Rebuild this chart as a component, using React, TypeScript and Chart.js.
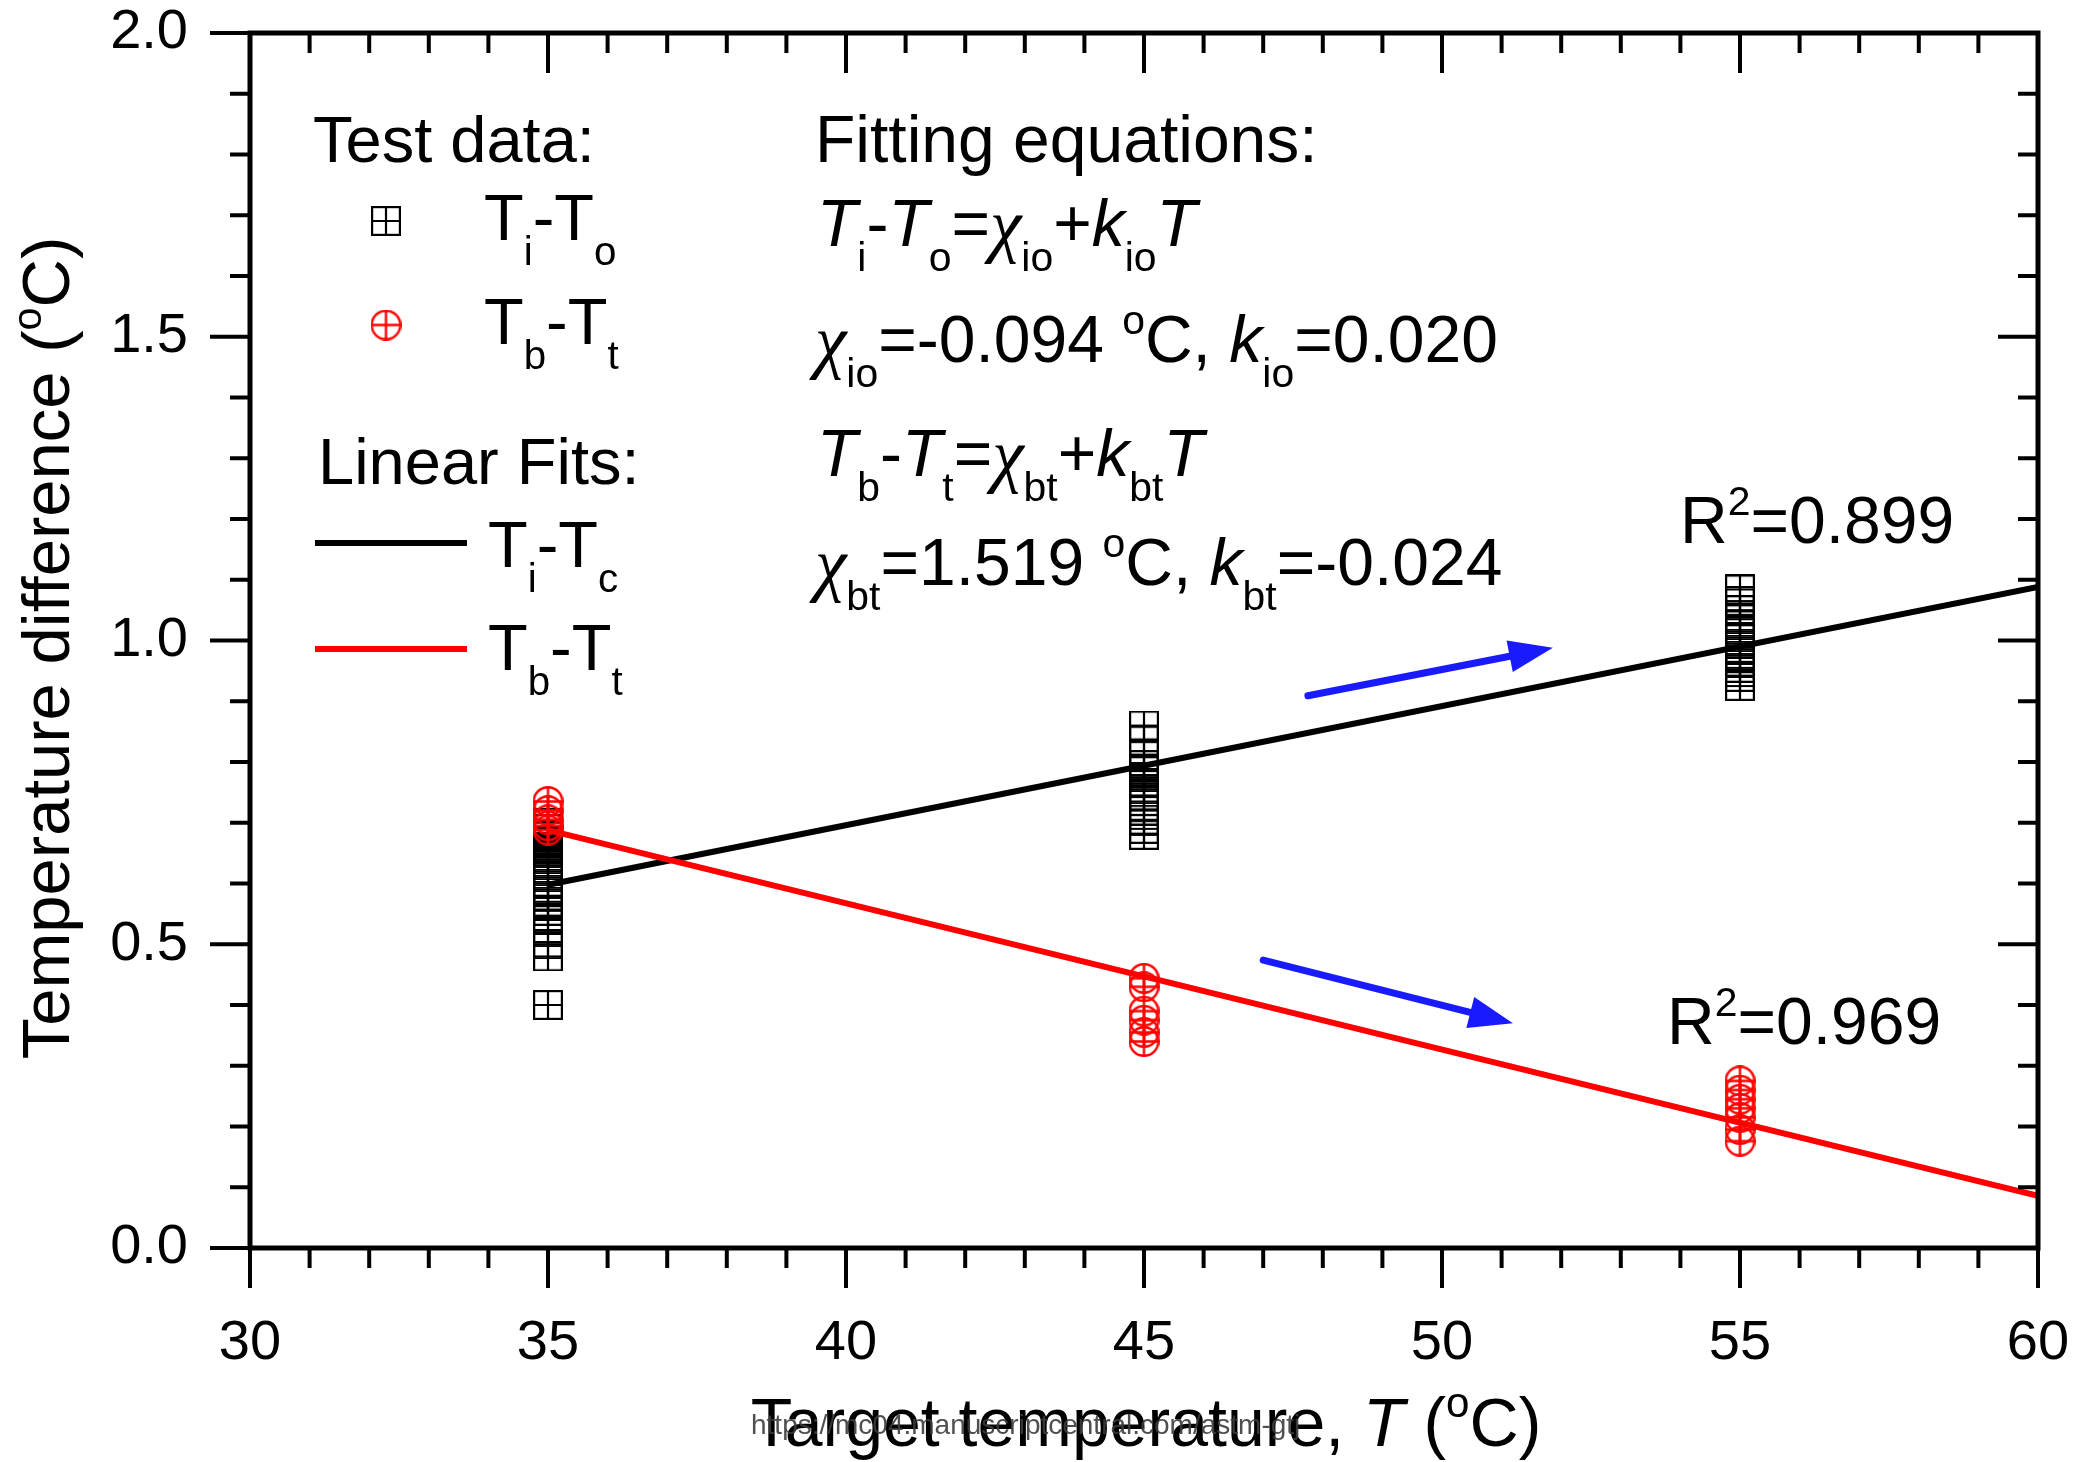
import React, { useEffect, useRef } from "react";
import { Chart, registerables } from "chart.js";

Chart.register(...registerables);

// ---------- data ----------
const xTickValues = [30, 35, 40, 45, 50, 55, 60];
const yTickValues = [0.0, 0.5, 1.0, 1.5, 2.0];

const tiTo35 = [0.40, 0.48, 0.50, 0.52, 0.54, 0.555, 0.57, 0.58, 0.59, 0.60, 0.61, 0.62, 0.63, 0.64, 0.65, 0.66, 0.67, 0.68, 0.69, 0.70];
const tiTo45 = [0.86, 0.835, 0.81, 0.795, 0.785, 0.775, 0.765, 0.755, 0.745, 0.735, 0.72, 0.705, 0.69, 0.68];
const tiTo55 = [1.084, 1.065, 1.05, 1.035, 1.025, 1.015, 1.005, 0.995, 0.985, 0.975, 0.965, 0.955, 0.94, 0.925];

const tbTt35 = [0.735, 0.72, 0.705, 0.695, 0.688];
const tbTt45 = [0.444, 0.43, 0.39, 0.375, 0.355, 0.34];
const tbTt55 = [0.275, 0.26, 0.245, 0.23, 0.215, 0.195, 0.176];

const fitX = [35, 60];
const fitTiTo = [0.598, 1.088];
const fitTbTt = [0.688, 0.086];

const arrowStarts = [[47.75, 0.909], [47.0, 0.474]];
const arrowEnds = [[51.86, 0.988], [51.19, 0.37]];

const FONT = "'Liberation Sans', Arial, Helvetica, sans-serif";
const CHI_FONT = "'Liberation Serif', 'DejaVu Serif', serif";

type Seg = { t: string; it?: boolean; sub?: boolean; sup?: boolean; chi?: boolean };

function pts(x: number, ys: number[]) {
  return ys.map((y) => ({ x, y }));
}

function makeSquare(size: number, color: string, lw: number) {
  const c = document.createElement("canvas");
  c.width = size;
  c.height = size;
  const g = c.getContext("2d")!;
  g.strokeStyle = color;
  g.lineWidth = lw;
  const h = lw / 2;
  g.strokeRect(h, h, size - lw, size - lw);
  g.beginPath();
  g.moveTo(size / 2, h);
  g.lineTo(size / 2, size - h);
  g.moveTo(h, size / 2);
  g.lineTo(size - h, size / 2);
  g.stroke();
  return c;
}

function makeCircle(size: number, color: string, lw: number) {
  const c = document.createElement("canvas");
  c.width = size;
  c.height = size;
  const g = c.getContext("2d")!;
  g.strokeStyle = color;
  g.lineWidth = lw;
  const r = size / 2 - lw / 2;
  g.beginPath();
  g.arc(size / 2, size / 2, r, 0, Math.PI * 2);
  g.moveTo(size / 2, size / 2 - r);
  g.lineTo(size / 2, size / 2 + r);
  g.moveTo(size / 2 - r, size / 2);
  g.lineTo(size / 2 + r, size / 2);
  g.stroke();
  return c;
}

function segFont(s: Seg, size: number) {
  const fs = s.sub || s.sup ? size * 0.62 : s.chi ? size * 1.08 : size;
  return `${s.it || s.chi ? "italic " : ""}${fs}px ${s.chi ? CHI_FONT : FONT}`;
}

function richWidth(ctx: CanvasRenderingContext2D, segs: Seg[], size: number) {
  let w = 0;
  for (const s of segs) {
    ctx.font = segFont(s, size);
    w += ctx.measureText(s.t).width;
  }
  return w;
}

function drawRich(ctx: CanvasRenderingContext2D, x: number, y: number, segs: Seg[], size: number, color = "#000") {
  let cx = x;
  ctx.fillStyle = color;
  ctx.textBaseline = "alphabetic";
  ctx.textAlign = "left";
  for (const s of segs) {
    ctx.font = segFont(s, size);
    const dy = s.sub ? size * 0.38 : s.sup ? -size * 0.42 : s.chi ? size * 0.05 : 0;
    ctx.fillText(s.t, cx, y + dy);
    cx += ctx.measureText(s.t).width;
  }
}

function zeroPad(s: any) {
  s.paddingTop = 0;
  s.paddingBottom = 0;
  s.paddingLeft = 0;
  s.paddingRight = 0;
}

export default function App() {
  const ref = useRef<HTMLCanvasElement | null>(null);

  useEffect(() => {
    const canvas = ref.current!;
    const sq = makeSquare(30, "#000", 2.2);
    const ci = makeCircle(31, "#ff0000", 2.4);

    const decor = {
      id: "decor",
      beforeDraw(chart: any) {
        const ctx = chart.ctx;
        ctx.save();
        ctx.fillStyle = "#fff";
        ctx.fillRect(0, 0, chart.width, chart.height);
        ctx.restore();
      },
      afterDraw(chart: any) {
        const ctx: CanvasRenderingContext2D = chart.ctx;
        const xs = chart.scales.x;
        const ys = chart.scales.y;
        const { left, right, top, bottom } = chart.chartArea;
        ctx.save();
        // ticks
        ctx.strokeStyle = "#000";
        ctx.lineWidth = 4;
        ctx.beginPath();
        for (let v = 30; v <= 60; v += 1) {
          const px = xs.getPixelForValue(v);
          const len = v % 5 === 0 ? 40 : 20;
          ctx.moveTo(px, bottom);
          ctx.lineTo(px, bottom + len);
          ctx.moveTo(px, top);
          ctx.lineTo(px, top + len);
        }
        for (let i = 0; i <= 20; i++) {
          const v = i / 10;
          const py = ys.getPixelForValue(v);
          const len = i % 5 === 0 ? 40 : 20;
          ctx.moveTo(left, py);
          ctx.lineTo(left - len, py);
          ctx.moveTo(right, py);
          ctx.lineTo(right - len, py);
        }
        ctx.stroke();
        // frame
        ctx.lineWidth = 5;
        ctx.strokeRect(left, top, right - left, bottom - top);

        // arrows
        ctx.strokeStyle = "#1a1aff";
        ctx.fillStyle = "#1a1aff";
        ctx.lineWidth = 7;
        ctx.lineCap = "round";
        for (let i = 0; i < arrowStarts.length; i++) {
          const x1 = xs.getPixelForValue(arrowStarts[i][0]);
          const y1 = ys.getPixelForValue(arrowStarts[i][1]);
          const x2 = xs.getPixelForValue(arrowEnds[i][0]);
          const y2 = ys.getPixelForValue(arrowEnds[i][1]);
          const a = Math.atan2(y2 - y1, x2 - x1);
          const hl = 44;
          const hw = 16;
          const bx = x2 - hl * Math.cos(a);
          const by = y2 - hl * Math.sin(a);
          ctx.beginPath();
          ctx.moveTo(x1, y1);
          ctx.lineTo(bx + 4 * Math.cos(a), by + 4 * Math.sin(a));
          ctx.stroke();
          ctx.beginPath();
          ctx.moveTo(x2, y2);
          ctx.lineTo(bx - hw * Math.sin(a), by + hw * Math.cos(a));
          ctx.lineTo(bx + hw * Math.sin(a), by - hw * Math.cos(a));
          ctx.closePath();
          ctx.fill();
        }
        ctx.lineCap = "butt";

        // legend block
        const S = 65;
        drawRich(ctx, 313, 162, [{ t: "Test data:" }], S);
        ctx.drawImage(sq, 386 - 15, 221 - 15);
        drawRich(ctx, 484, 240, [{ t: "T" }, { t: "i", sub: true }, { t: "-T" }, { t: "o", sub: true }], S);
        ctx.drawImage(ci, 386 - 15.5, 325 - 15.5);
        drawRich(ctx, 484, 344, [{ t: "T" }, { t: "b", sub: true }, { t: "-T" }, { t: "t", sub: true }], S);
        drawRich(ctx, 318, 484, [{ t: "Linear Fits:" }], S);
        ctx.lineWidth = 6;
        ctx.strokeStyle = "#000";
        ctx.beginPath();
        ctx.moveTo(315, 543);
        ctx.lineTo(467, 543);
        ctx.stroke();
        drawRich(ctx, 488, 567, [{ t: "T" }, { t: "i", sub: true }, { t: "-T" }, { t: "c", sub: true }], S);
        ctx.strokeStyle = "#ff0000";
        ctx.beginPath();
        ctx.moveTo(315, 649);
        ctx.lineTo(467, 649);
        ctx.stroke();
        drawRich(ctx, 488, 670, [{ t: "T" }, { t: "b", sub: true }, { t: "-T" }, { t: "t", sub: true }], S);

        // equations
        const E = 66;
        drawRich(ctx, 815, 162, [{ t: "Fitting equations:" }], E);
        drawRich(ctx, 817, 246, [
          { t: "T", it: true }, { t: "i", sub: true }, { t: "-" }, { t: "T", it: true }, { t: "o", sub: true },
          { t: "=" }, { t: "χ", chi: true }, { t: "io", sub: true }, { t: "+" }, { t: "k", it: true }, { t: "io", sub: true }, { t: "T", it: true },
        ], E);
        drawRich(ctx, 815, 362, [
          { t: "χ", chi: true }, { t: "io", sub: true }, { t: "=-0.094 " }, { t: "o", sup: true }, { t: "C, " },
          { t: "k", it: true }, { t: "io", sub: true }, { t: "=0.020" },
        ], E);
        drawRich(ctx, 817, 476, [
          { t: "T", it: true }, { t: "b", sub: true }, { t: "-" }, { t: "T", it: true }, { t: "t", sub: true },
          { t: "=" }, { t: "χ", chi: true }, { t: "bt", sub: true }, { t: "+" }, { t: "k", it: true }, { t: "bt", sub: true }, { t: "T", it: true },
        ], E);
        drawRich(ctx, 815, 585, [
          { t: "χ", chi: true }, { t: "bt", sub: true }, { t: "=1.519 " }, { t: "o", sup: true }, { t: "C, " },
          { t: "k", it: true }, { t: "bt", sub: true }, { t: "=-0.024" },
        ], E);
        drawRich(ctx, 1680, 543, [{ t: "R" }, { t: "2", sup: true }, { t: "=0.899" }], E);
        drawRich(ctx, 1667, 1044, [{ t: "R" }, { t: "2", sup: true }, { t: "=0.969" }], E);

        // axis titles
        const xt: Seg[] = [{ t: "Target temperature, " }, { t: "T", it: true }, { t: " (" }, { t: "o", sup: true }, { t: "C)" }];
        const xw = richWidth(ctx, xt, 68);
        const xc = (left + right) / 2 + 2;
        drawRich(ctx, xc - xw / 2, 1446, xt, 68);

        const yt: Seg[] = [{ t: "Temperature difference (" }, { t: "o", sup: true }, { t: "C)" }];
        const yw = richWidth(ctx, yt, 67);
        ctx.save();
        ctx.translate(69, 648);
        ctx.rotate(-Math.PI / 2);
        drawRich(ctx, -yw / 2, 0, yt, 67);
        ctx.restore();

        // watermark
        ctx.font = `28px ${FONT}`;
        ctx.fillStyle = "rgba(60,60,60,0.9)";
        ctx.fillText("https://mc04.manuscriptcentral.com/astm-gtj", 751, 1434);

        ctx.restore();
      },
    };

    const chart = new Chart(canvas, {
      type: "scatter",
      data: {
        datasets: [
          {
            label: "Ti-To",
            data: [...pts(35, tiTo35), ...pts(45, tiTo45), ...pts(55, tiTo55)],
            pointStyle: sq as any,
            pointRadius: 15,
            order: 4,
          },
          {
            label: "Tb-Tt",
            data: [...pts(35, tbTt35), ...pts(45, tbTt45), ...pts(55, tbTt55)],
            pointStyle: ci as any,
            pointRadius: 15,
            order: 3,
          },
          {
            label: "Ti-Tc fit",
            data: fitX.map((x, i) => ({ x, y: fitTiTo[i] })),
            showLine: true,
            borderColor: "#000",
            borderWidth: 6,
            pointRadius: 0,
            order: 2,
          },
          {
            label: "Tb-Tt fit",
            data: fitX.map((x, i) => ({ x, y: fitTbTt[i] })),
            showLine: true,
            borderColor: "#ff0000",
            borderWidth: 6,
            pointRadius: 0,
            order: 1,
          },
        ],
      },
      options: {
        responsive: false,
        animation: false,
        devicePixelRatio: 1,
        layout: { padding: { top: 33, right: 40, left: 0, bottom: 0 } },
        plugins: { legend: { display: false }, tooltip: { enabled: false } },
        scales: {
          x: {
            type: "linear",
            min: 30,
            max: 60,
            afterBuildTicks: (s: any) => {
              s.ticks = xTickValues.map((v) => ({ value: v }));
            },
            ticks: {
              color: "#000",
              font: { family: FONT, size: 56 },
              padding: 62,
              maxRotation: 0,
              autoSkip: false,
              callback: (v: any) => String(v),
            },
            grid: { display: false, drawTicks: false },
            border: { display: false },
            afterFit: (s: any) => {
              s.height = 214;
              zeroPad(s);
            },
          },
          y: {
            type: "linear",
            min: 0,
            max: 2,
            afterBuildTicks: (s: any) => {
              s.ticks = yTickValues.map((v) => ({ value: v }));
            },
            ticks: {
              color: "#000",
              font: { family: FONT, size: 56 },
              padding: 62,
              autoSkip: false,
              callback: (v: any) => Number(v).toFixed(1),
            },
            grid: { display: false, drawTicks: false },
            border: { display: false },
            afterFit: (s: any) => {
              s.width = 250;
              zeroPad(s);
            },
          },
        },
      },
      plugins: [decor],
    });
    return () => chart.destroy();
  }, []);

  return (
    <div style={{ position: "absolute", left: 0, top: 0, width: 2078, height: 1462 }}>
      <canvas ref={ref} width={2078} height={1462} style={{ width: 2078, height: 1462, display: "block" }} />
    </div>
  );
}
